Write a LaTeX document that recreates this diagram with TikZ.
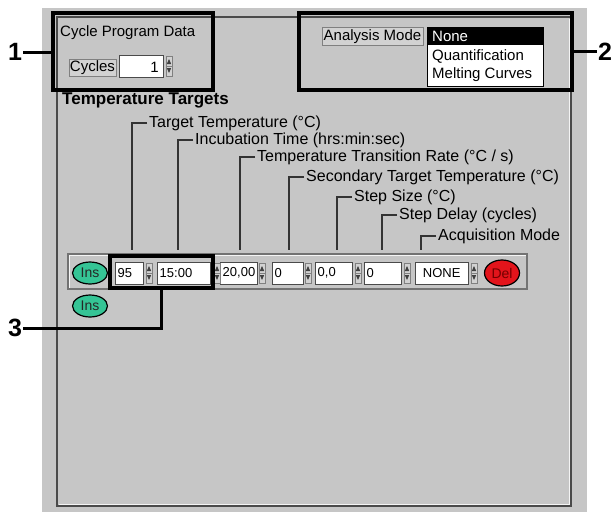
\documentclass[tikz,border=0pt]{standalone}
\usepackage{fontspec}
\setmainfont{Liberation Sans}
\usetikzlibrary{shapes.geometric}
\definecolor{panelgray}{HTML}{C6C6C6}
\definecolor{btngray}{HTML}{D2D2D2}
\definecolor{insgreen}{HTML}{35C495}
\definecolor{delred}{HTML}{E3141B}
\definecolor{edgegray}{HTML}{4A4A4A}

\begin{document}
\begin{tikzpicture}
[x=1pt,y=-1pt,%
  uitext/.style={font=\fontsize{15}{17}\selectfont,inner sep=0pt},%
  leadtext/.style={font=\fontsize{16}{18}\selectfont,inner sep=2pt,anchor=west},%
  leadline/.style={black!80,line width=1.3pt},%
  fieldbox/.style={draw=edgegray,fill=white,minimum height=22pt,inner sep=2.5pt,
    font=\fontsize{13}{15}\selectfont,anchor=west},%
  btnshape/.style={ellipse,draw=black,line width=1.2pt,minimum width=35pt,
    minimum height=22pt,inner sep=0pt,font=\fontsize{14}{16}\selectfont},%
  framebox/.style={draw=black,line width=4pt,inner sep=0pt},%
  numlabel/.style={font=\bfseries\fontsize{25}{27}\selectfont,inner sep=1pt},%
  numline/.style={black,line width=3pt}]
\useasboundingbox (0,0) rectangle (615,512);
%% window background and panel
\fill[panelgray] (42,8) rectangle (587,512);
\draw[edgegray,line width=1.2pt] (57,17) rectangle (571,506);
\draw[white!80!panelgray] (59,504.5) -- (569.5,504.5) -- (569.5,19);

%% cycle program data
\node[uitext,anchor=west] (cpd) at (60,33) {Cycle Program Data};
\draw[fill=btngray,draw=gray] (69,59) rectangle (116,76);
\node[uitext] (cyc) at (92.5,68) {Cycles};
\draw[fill=white,draw=edgegray] (119,55) rectangle (163,77);
\node[uitext,anchor=east] (ncyc) at (159,67) {1};

%% analysis mode
\draw[fill=btngray,draw=gray] (322,27) rectangle (423,45);
\node[uitext] (amode) at (372.5,36.5) {Analysis Mode};
\draw[fill=white,draw=black] (427,27) rectangle (543,86);
\fill[black] (427,27) rectangle (543,45);
\node[uitext,anchor=west,white] (none) at (432,36) {None};
\node[uitext,anchor=west] (quant) at (432,56) {Quantification};
\node[uitext,anchor=west] (melt) at (432,75) {Melting Curves};

%% temperature targets
\node[font=\bfseries\fontsize{17}{19}\selectfont,inner sep=0pt,anchor=west]
  (tgt) at (62,100) {Temperature Targets};

%% step row
\draw[fill=panelgray,draw=black!55,line width=1.2pt] (68,254) rectangle (527,289);
\draw[white!85!panelgray] (69.5,287.5) -- (69.5,255.5) -- (525.5,255.5);
\foreach \name/\xa/\w/\val/\alg in {f95/115/28/95/left, ftime/157/53/15:00/left,
  frate/220/37/{20,00}/left, fsec/272/31/0/left, fstep/315/37/{0,0}/left,
  fdelay/364/37/0/left, facq/415/53/NONE/center}
{
  \pgfmathsetmacro{\tw}{\w-5}
  \node[fieldbox,text width=\tw pt,align=\alg] (\name) at (\xa,273) {\val};
}
%% spinners
\foreach \sx/\sy in {149/273, 217/273, 262/273, 308/273, 358/273, 407/273,
  474/273, 169/66}
{
  \draw[gray,fill=btngray] (\sx-3,\sy-10) rectangle (\sx+3,\sy+10);
  \draw[gray] (\sx-3,\sy) -- (\sx+3,\sy);
  \fill[black!75] (\sx-2.2,\sy-2) -- (\sx+2.2,\sy-2) -- (\sx,\sy-7) -- cycle;
  \fill[black!75] (\sx-2.2,\sy+2) -- (\sx+2.2,\sy+2) -- (\sx,\sy+7) -- cycle;
}
\node[btnshape,fill=insgreen,text=black!85] (ins1) at (90,273) {Ins};
\node[btnshape,fill=insgreen,text=black!85] (ins2) at (90,306) {Ins};
\node[btnshape,fill=delred,text=red!45!black,minimum height=26pt] (del) at (502,273) {Del};

%% column captions
\foreach \name/\x/\y/\txt in {ttemp/132/123/{Target Temperature (°C)},
  itime/178/140/{Incubation Time (hrs:min:sec)},
  trate/240/157/{Temperature Transition Rate (°C / s)},
  stemp/289/177/{Secondary Target Temperature (°C)},
  ssize/337/197/{Step Size (°C)},
  sdelay/382/215/{Step Delay (cycles)},
  acqm/421/236/{Acquisition Mode}}
{
  \node[leadtext] (\name) at (\x+15,\y) {\txt};
  \coordinate (\name-end) at (\x,250);
  \draw[leadline] (\name.west) -| (\name-end);
}

%% callouts
\node[framebox,minimum width=160pt,minimum height=77pt] (b1) at (133,51.5) {};
\node[framebox,minimum width=273pt,minimum height=77pt] (b2) at (435.5,51.5) {};
\node[framebox,minimum width=103pt,minimum height=32pt] (b3) at (161.5,272) {};
\node[numlabel] (n1) at (15,52) {1};
\node[numlabel] (n2) at (605,52) {2};
\node[numlabel] (n3) at (15,328) {3};
\draw[numline] (n1.east) -- (n1.east -| b1.west);
\draw[numline] (b2.east) -- (b2.east -| n2.west);
\draw[numline] (n3.east) -| (b3.south);
\end{tikzpicture}
\end{document}
